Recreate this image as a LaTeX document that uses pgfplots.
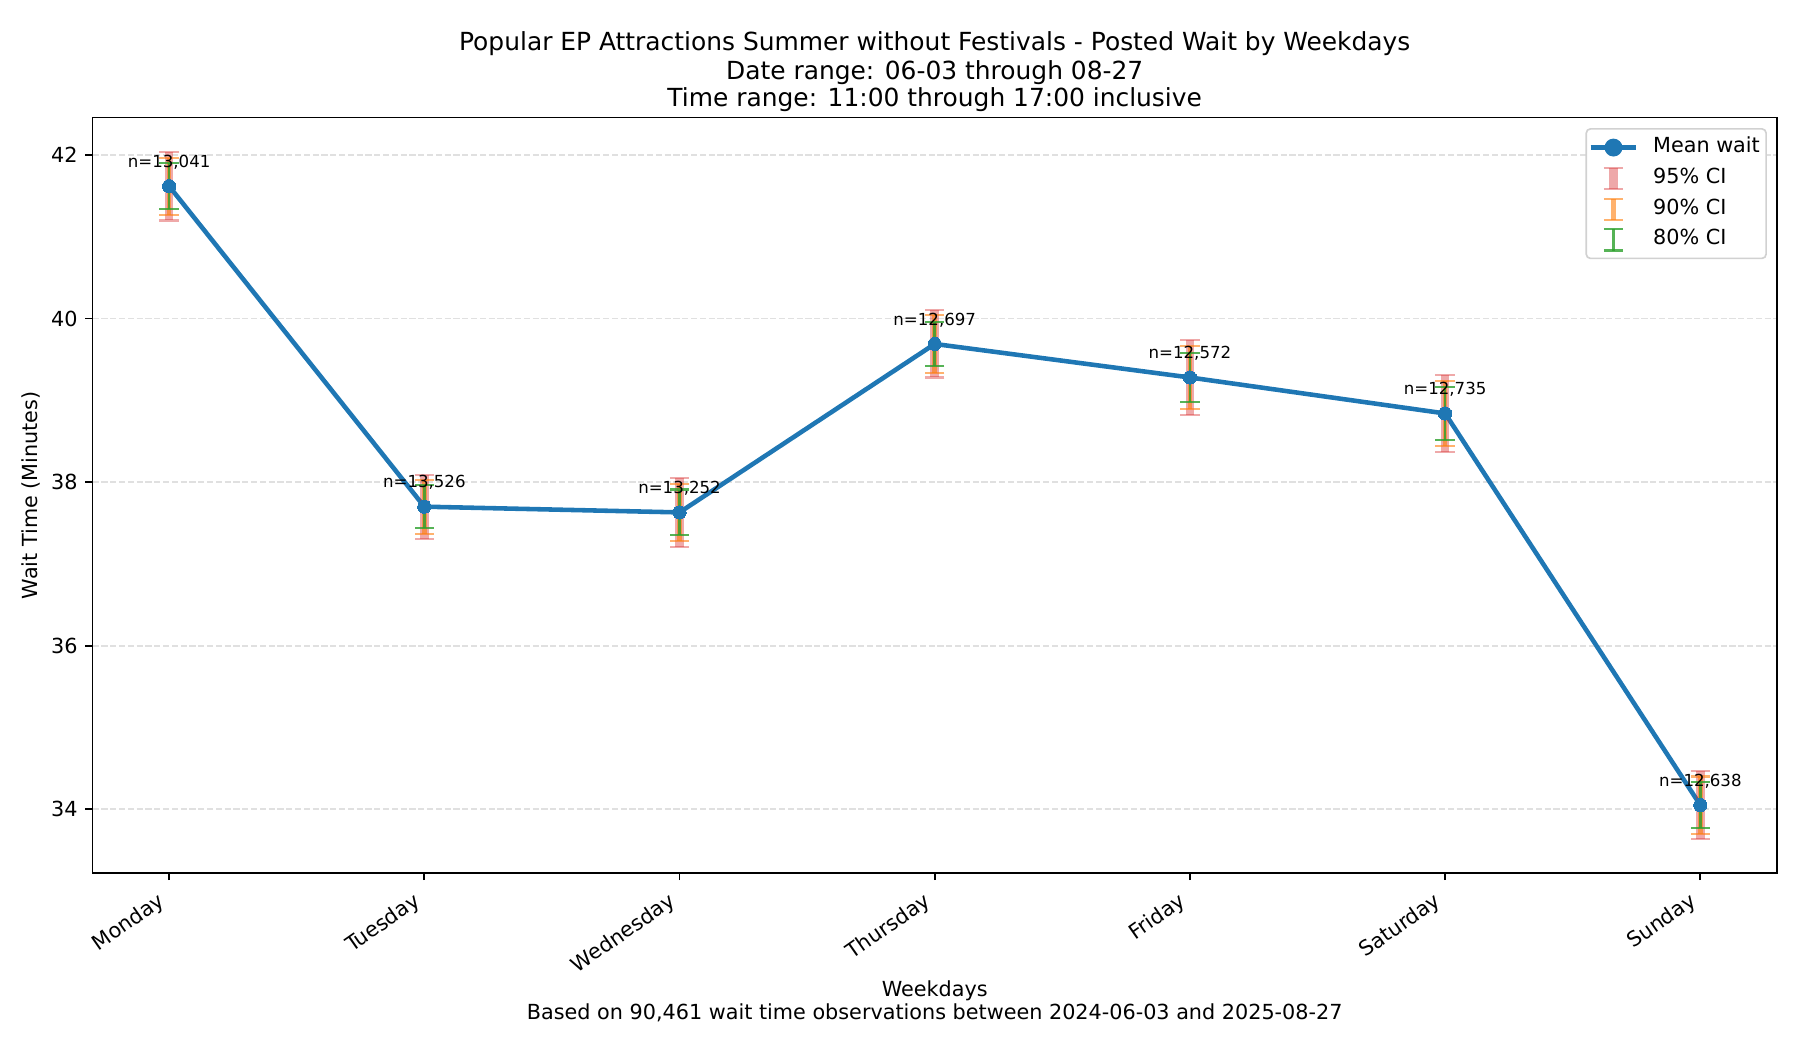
\documentclass[border=0pt]{standalone}
\usepackage{fontspec}
\setmainfont{DejaVu Sans}
\usepackage{pgfplots}
\usepackage{pgfplotstable}
\pgfplotsset{compat=1.18}
\definecolor{mblue}{HTML}{1F77B4}
\definecolor{mred}{HTML}{D62728}
\definecolor{morange}{HTML}{FF7F0E}
\definecolor{mgreen}{HTML}{2CA02C}

\pgfplotstableread{
x m e95 e90 e80 lab
0 41.62 0.42 0.35 0.28 n=13,041
1 37.70 0.39 0.33 0.26 n=13,526
2 37.63 0.42 0.35 0.28 n=13,252
3 39.69 0.41 0.35 0.27 n=12,697
4 39.28 0.46 0.38 0.30 n=12,572
5 38.84 0.47 0.40 0.32 n=12,735
6 34.05 0.42 0.35 0.28 n=12,638
}\data

\begin{document}
\begin{tikzpicture}
\useasboundingbox (-44.6pt,-85.3pt) rectangle (822.64pt,420.6pt);
\begin{axis}[
  at={(0,0)}, anchor=south west,
  scale only axis, width=811.5pt, height=364pt,
  xmin=-0.3, xmax=6.3, ymin=33.22, ymax=42.46,
  xtick={0,1,2,3,4,5,6},
  xticklabels={Monday,Tuesday,Wednesday,Thursday,Friday,Saturday,Sunday},
  ytick={34,36,38,40,42},
  tick align=outside, tick pos=left, major tick length=3.5pt,
  tick style={black, line width=0.8pt},
  axis line style={black, line width=0.8pt},
  ymajorgrids,
  major grid style={color=black!12, line width=0.8pt, dash pattern=on 2.96pt off 1.28pt},
  /pgf/number format/assume math mode=true,
  tick label style={font=\fontsize{10}{12}\selectfont},
  xticklabel style={xshift=-5.8pt, yshift=-5pt, rotate=35, anchor=north east, inner sep=0pt},
  yticklabel style={anchor=east, inner sep=0pt, xshift=-3.5pt},
  clip=false,
  legend style={at={(1,1)}, anchor=north east, xshift=-4.8pt, yshift=-5.1pt,
    draw=black!18, rounded corners=2pt, line width=0.8pt,
    font=\fontsize{10}{12}\selectfont, inner xsep=1pt, inner ysep=2pt, row sep=0.6pt,
    nodes={inner xsep=2pt, inner ysep=2pt, text height=7.5pt, text depth=2.5pt}},
  legend cell align=left,
]
\addplot[mblue, line width=2.2pt, mark=*, mark size=3.2pt,
  mark options={solid, fill=mblue, draw=mblue, line width=0pt},
  legend image code/.code={
    \draw[mblue, line width=2.2pt] (0pt,0pt) -- (22pt,0pt);
    \fill[mblue] (11pt,0pt) circle (3.2pt);
    \path (27pt,0pt);}]
  table[x=x, y=m]{\data};
\addlegendentry{Mean wait}

\addplot[draw=none, mark=none,
  error bars/.cd, y dir=both, y explicit,
  error bar style={draw=mred, draw opacity=0.4, line width=4.2pt},
  error mark=-, error mark options={rotate=90, draw=mred, draw opacity=0.4, line width=1pt, mark size=4.65pt},
  /pgfplots/legend image code/.code={
    \draw[mred, draw opacity=0.4, line width=4.2pt] (11pt,-5.2pt) -- (11pt,5.2pt);
    \draw[mred, draw opacity=0.4, line width=1pt] (6.4pt,-5.2pt) -- (15.6pt,-5.2pt) (6.4pt,5.2pt) -- (15.6pt,5.2pt);
    \path (0pt,0pt) (27pt,0pt);}]
  table[x=x, y=m, y error=e95]{\data};
\addlegendentry{95\% CI}

\addplot[draw=none, mark=none,
  error bars/.cd, y dir=both, y explicit,
  error bar style={draw=morange, draw opacity=0.6, line width=2.2pt},
  error mark=-, error mark options={rotate=90, draw=morange, draw opacity=0.6, line width=1pt, mark size=4.65pt},
  /pgfplots/legend image code/.code={
    \draw[morange, draw opacity=0.6, line width=2.2pt] (11pt,-5.2pt) -- (11pt,5.2pt);
    \draw[morange, draw opacity=0.6, line width=1pt] (6.4pt,-5.2pt) -- (15.6pt,-5.2pt) (6.4pt,5.2pt) -- (15.6pt,5.2pt);
    \path (0pt,0pt) (27pt,0pt);}]
  table[x=x, y=m, y error=e90]{\data};
\addlegendentry{90\% CI}

\addplot[draw=none, mark=none,
  error bars/.cd, y dir=both, y explicit,
  error bar style={draw=mgreen, draw opacity=0.8, line width=1.3pt},
  error mark=-, error mark options={rotate=90, draw=mgreen, draw opacity=0.8, line width=1pt, mark size=4.65pt},
  /pgfplots/legend image code/.code={
    \draw[mgreen, draw opacity=0.8, line width=1.3pt] (11pt,-5.2pt) -- (11pt,5.2pt);
    \draw[mgreen, draw opacity=0.8, line width=1pt] (6.4pt,-5.2pt) -- (15.6pt,-5.2pt) (6.4pt,5.2pt) -- (15.6pt,5.2pt);
    \path (0pt,0pt) (27pt,0pt);}]
  table[x=x, y=m, y error=e80]{\data};
\addlegendentry{80\% CI}

\addplot[draw=none, mark=none, forget plot,
  point meta=explicit symbolic,
  nodes near coords,
  nodes near coords style={anchor=base, inner sep=0pt, yshift=9pt, text=black, font=\fontsize{8}{9.6}\selectfont}]
  table[x=x, y=m, meta=lab]{\data};

\node[anchor=base, font=\fontsize{12}{14}\selectfont] at (rel axis cs:0.5,1) [yshift=32.2pt] {Popular EP Attractions Summer without Festivals - Posted Wait by Weekdays};
\node[anchor=base, font=\fontsize{12}{14}\selectfont] at (rel axis cs:0.5,1) [yshift=18.5pt] {Date range: 06-03 through 08-27};
\node[anchor=base, font=\fontsize{12}{14}\selectfont] at (rel axis cs:0.5,1) [yshift=5.2pt] {Time range: 11:00 through 17:00 inclusive};
\node[anchor=base, font=\fontsize{10}{12}\selectfont] at (rel axis cs:0.5,0) [yshift=-59.3pt] {Weekdays};
\node[anchor=base, font=\fontsize{10}{12}\selectfont] at (rel axis cs:0.5,0) [yshift=-70.8pt] {Based on 90,461 wait time observations between 2024-06-03 and 2025-08-27};
\node[xshift=-29.7pt, rotate=90, anchor=center, font=\fontsize{10}{12}\selectfont] at (rel axis cs:0,0.5) {Wait Time (Minutes)};
\end{axis}
\end{tikzpicture}
\end{document}
